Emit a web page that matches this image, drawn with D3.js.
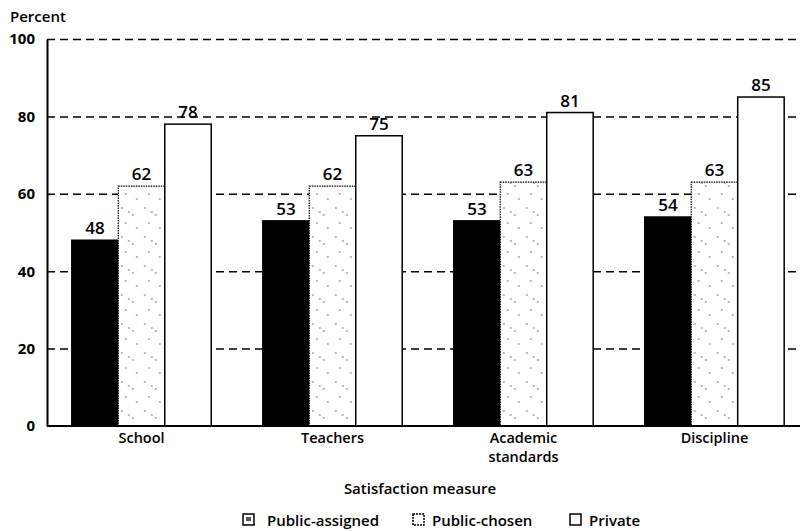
<!DOCTYPE html>
<html><head><meta charset="utf-8">
<script src="https://cdn.jsdelivr.net/npm/d3@7"></script>
<style>
body{margin:0;background:#fff;}
text{font-family:"Open Sans",sans-serif;fill:#000;}
</style></head>
<body><svg id="c" width="804" height="531"></svg>
<script>
const categories = ["School", "Teachers", "Academic standards", "Discipline"];
const seriesNames = ["Public-assigned", "Public-chosen", "Private"];
const publicAssigned = [48, 53, 53, 54];
const publicChosen = [62, 62, 63, 63];
const privateVals = [78, 75, 81, 85];
const yTicks = [0, 20, 40, 60, 80, 100];

const series = [publicAssigned, publicChosen, privateVals];
const svg = d3.select("#c");
const mLeft = 47, mRight = 809, mTop = 39, mBottom = 426;

const defs = svg.append("defs");
const pat = defs.append("pattern").attr("id","speck").attr("patternUnits","userSpaceOnUse")
  .attr("width",23).attr("height",29);
pat.append("rect").attr("width",23).attr("height",29).attr("fill","#fff");
[[4,5],[15,12],[8,20],[19,25],[11,9]].forEach(d=>{
  pat.append("circle").attr("cx",d[0]).attr("cy",d[1]).attr("r",0.9).attr("fill","#999");
});

const x0 = d3.scaleBand().domain(categories).range([mLeft, mRight]).paddingInner(0.27).paddingOuter(0.13);
const x1 = d3.scaleBand().domain(seriesNames).range([0, x0.bandwidth()]);
const y = d3.scaleLinear().domain([0,100]).range([mBottom, mTop]);

// gridlines
svg.append("g").attr("transform",`translate(${mLeft},0)`)
  .call(d3.axisRight(y).tickValues(yTicks.filter(t=>t>0)).tickSize(800-mLeft).tickFormat(""))
  .call(g=>g.select(".domain").remove())
  .call(g=>g.selectAll("line").attr("stroke","#000").attr("stroke-width",1.5).attr("stroke-dasharray","8,5"));

// bars
const groups = svg.append("g").selectAll("g").data(categories).join("g")
  .attr("transform", d=>`translate(${x0(d)},0)`);
groups.each(function(cat, ci){
  const g = d3.select(this);
  seriesNames.forEach((s, si)=>{
    const v = series[si][ci];
    const bx = x1(s), bw = x1.bandwidth();
    g.append("rect").attr("x",bx).attr("y",y(v)).attr("width",bw).attr("height",y(0)-y(v))
      .attr("fill", si===0 ? "#000" : (si===1 ? "url(#speck)" : "#fff"))
      .attr("stroke","#000")
      .attr("stroke-width", si===1 ? 1.2 : 1.5)
      .attr("stroke-dasharray", si===1 ? "1.5,1" : null);
    g.append("text").attr("x",bx+bw/2).attr("y",y(v)-6).attr("text-anchor","middle")
      .attr("font-size",17).attr("font-weight",600).text(v);
  });
});

// y axis
svg.append("g").attr("transform",`translate(${mLeft},0)`)
  .call(d3.axisLeft(y).tickValues(yTicks).tickSize(0).tickPadding(12))
  .call(g=>g.select(".domain").attr("stroke","#000").attr("stroke-width",2))
  .call(g=>g.selectAll("text").attr("font-size",15).attr("font-weight",700)
    .style("font-family","'Open Sans',sans-serif"));

// x baseline
svg.append("line").attr("x1",mLeft).attr("x2",800).attr("y1",y(0)).attr("y2",y(0))
  .attr("stroke","#000").attr("stroke-width",2);

// category labels
categories.forEach(c=>{
  const words = c === "Academic standards" ? ["Academic","standards"] : [c];
  words.forEach((w,i)=>svg.append("text").attr("x",x0(c)+x0.bandwidth()/2).attr("y",443+i*19)
    .attr("text-anchor","middle").attr("font-size",14.5).attr("font-weight",600).text(w));
});

svg.append("text").attr("x",10).attr("y",22).attr("font-size",15).attr("font-weight",600).text("Percent");
svg.append("text").attr("x",420).attr("y",494).attr("text-anchor","middle").attr("font-size",15).attr("font-weight",600).text("Satisfaction measure");

// legend
const legX = [243, 413, 570];
seriesNames.forEach((s,i)=>{
  svg.append("rect").attr("x",legX[i]).attr("y",514).attr("width",11).attr("height",11)
    .attr("fill","#fff").attr("stroke","#000").attr("stroke-width",1.5)
    .attr("stroke-dasharray", i===1 ? "2,1" : null);
  if(i===0) svg.append("rect").attr("x",legX[i]+3).attr("y",517).attr("width",5).attr("height",4).attr("fill","#555");
  svg.append("text").attr("x",legX[i]+ (i===0?24:19)).attr("y",526).attr("font-size",15).attr("font-weight",600).text(s);
});
</script></body></html>
